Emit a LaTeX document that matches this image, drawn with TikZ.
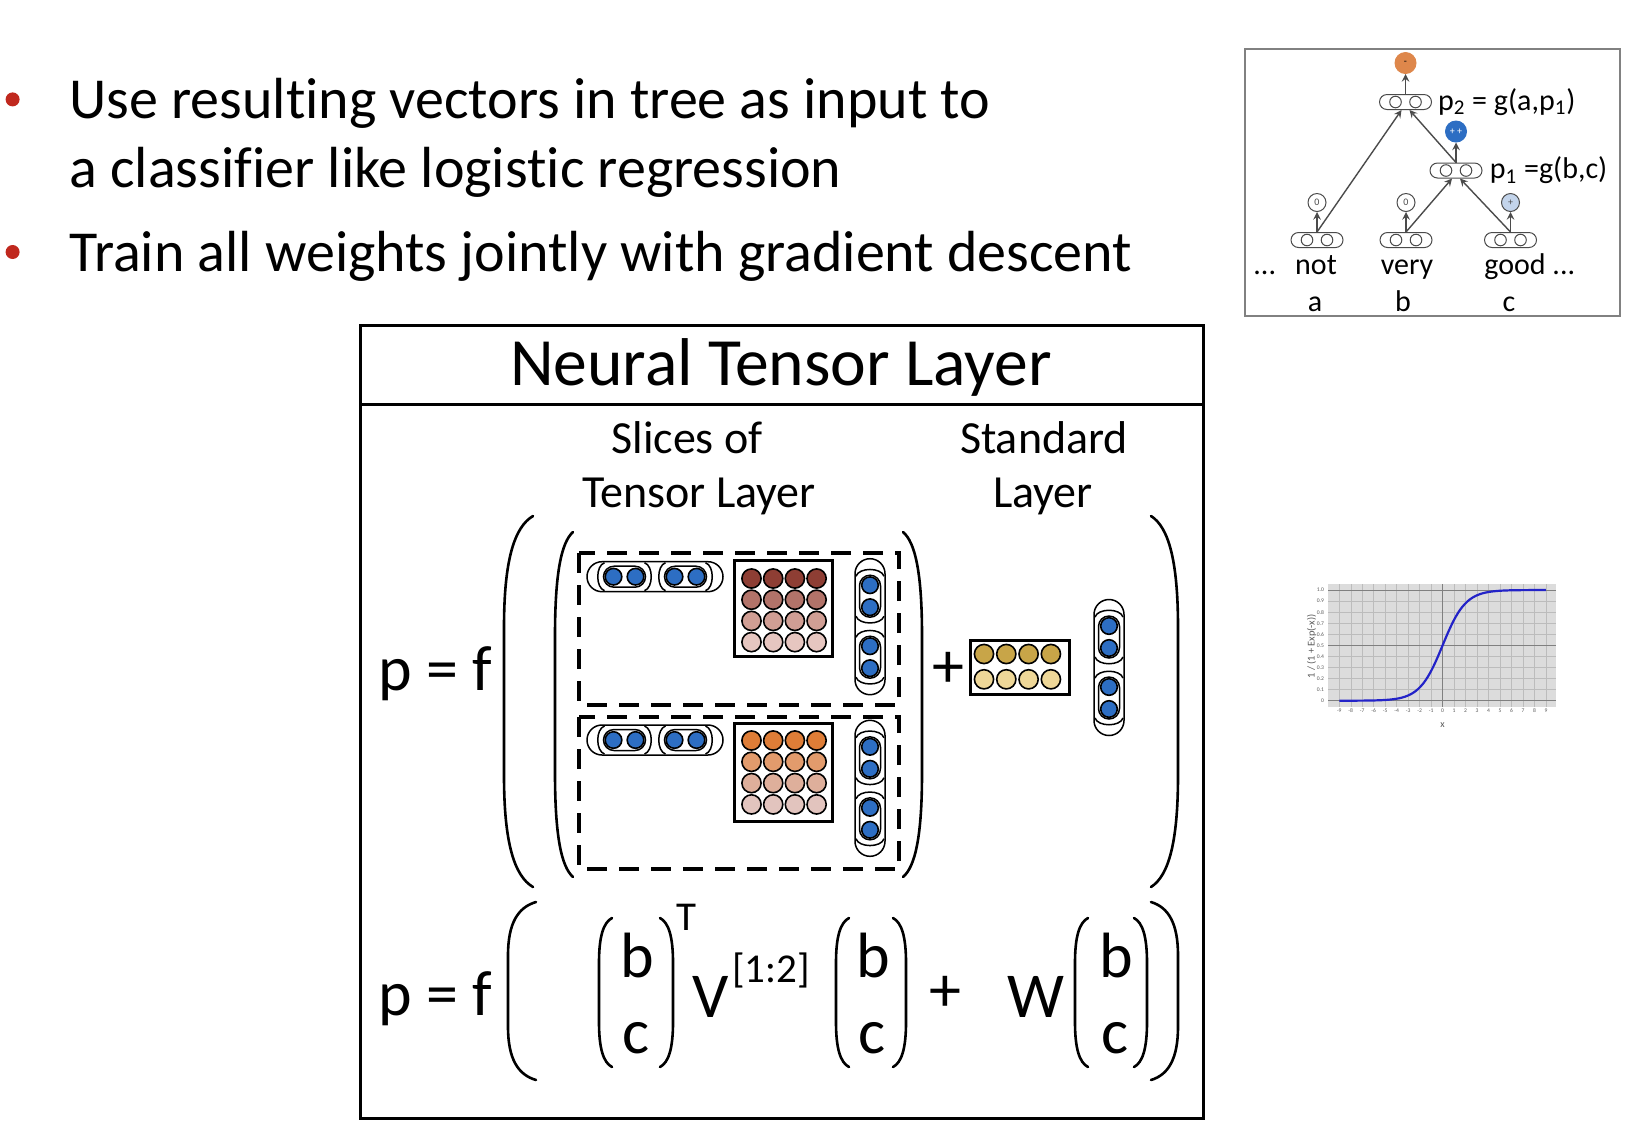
\documentclass[tikz,border=0pt]{standalone}
\usepackage{fontspec}
\setmainfont{Carlito}[Ligatures=NoCommon]
\usetikzlibrary{positioning}

\definecolor{bulletred}{RGB}{192,40,30}
\definecolor{vblue}{RGB}{45,110,195}
\definecolor{mA1}{RGB}{142,62,52}
\definecolor{mA2}{RGB}{178,115,105}
\definecolor{mA3}{RGB}{208,158,148}
\definecolor{mA4}{RGB}{230,198,192}
\definecolor{mB1}{RGB}{222,125,55}
\definecolor{mB2}{RGB}{226,155,108}
\definecolor{mB3}{RGB}{222,175,155}
\definecolor{mB4}{RGB}{226,196,190}
\definecolor{mW1}{RGB}{200,165,72}
\definecolor{mW2}{RGB}{238,215,152}
\definecolor{treegray}{RGB}{75,75,75}
\definecolor{sentorange}{RGB}{222,135,75}
\definecolor{sentlight}{RGB}{195,212,235}
\definecolor{plotbg}{RGB}{220,220,220}
\definecolor{plotgrid}{RGB}{188,188,188}
\definecolor{plotblue}{RGB}{35,35,200}

\newcommand{\bulletfont}{\fontsize{29}{34}\selectfont}
\newcommand{\titlefont}{\fontsize{33.8}{40}\selectfont}
\newcommand{\capfont}{\fontsize{23}{27}\selectfont}
\newcommand{\eqfont}{\fontsize{32}{38}\selectfont}
\newcommand{\supfont}{\fontsize{20.5}{24}\selectfont}
\newcommand{\treefont}{\fontsize{15}{18}\selectfont}
\newcommand{\tickfont}{\fontsize{2.8}{3}\selectfont}

% paren: outer x, inner x, top y, bottom y
\newcommand{\vparen}[4]{%
\draw[parenline] (#2,#3) .. controls ({#1+0.35*(#2-#1)},{#3+0.03*(#4-#3)}) and (#1,{#3+0.12*(#4-#3)}) .. (#1,{#3+0.3*(#4-#3)})
  -- (#1,{#4-0.3*(#4-#3)}) .. controls (#1,{#4-0.12*(#4-#3)}) and ({#1+0.35*(#2-#1)},{#4-0.03*(#4-#3)}) .. (#2,#4);}

\tikzset{
  ball/.style={draw=black, line width=0.8pt, fill=#1},
  pill/.style={draw=black, line width=0.75pt},
  parenline/.style={draw=black, line width=1.3pt, line cap=round},
  dashbox/.style={draw=black, line width=1.8pt, dash pattern=on 10pt off 6pt},
  tpill/.style={draw=treegray, line width=0.5pt, rounded corners=3.75pt, minimum width=26pt, minimum height=7.5pt, inner sep=0pt,
    path picture={\draw[treegray, line width=0.5pt] ([xshift=-5pt]path picture bounding box.center) circle (2.9pt)
      ([xshift=5pt]path picture bounding box.center) circle (2.9pt);}},
  tsent/.style={circle, draw=treegray, line width=0.5pt, minimum size=9pt, inner sep=0pt, font=\fontsize{5}{5}\selectfont, text=treegray},
  tarrow/.style={draw=treegray, line width=0.7pt, -stealth},
  pics/hvec/.style={code={
    \draw[pill, rounded corners=7.5pt] (-68,-15) rectangle (68,15);
    \foreach \g in {-30.5,30.5} {
      \draw[pill, rounded corners=5.25pt] (\g-21,-10.5) rectangle (\g+21,10.5);
      \draw[pill] (\g-20,-14) .. controls (\g-29,-11) and (\g-29,11) .. (\g-20,14);
      \draw[pill] (\g+20,-14) .. controls (\g+29,-11) and (\g+29,11) .. (\g+20,14);
      \foreach \d in {-11,11}
        \draw[ball=vblue] (\g+\d,0) circle (8.3);
    }
  }}
}

\begin{document}
\begin{tikzpicture}[x=0.5pt, y=-0.5pt, every node/.style={inner sep=0pt}]
\useasboundingbox (0,0) rectangle (1640,1132);

% bullets
\fill[bulletred] (12.6,99.4) circle (7);
\fill[bulletred] (12.6,252) circle (7);
\node[anchor=base west, font=\bulletfont] (bulA) at (69,118) {Use resulting vectors in tree as input to};
\node[anchor=base west, font=\bulletfont] (bulB) at (69,187) {a classifier like logistic regression};
\node[anchor=base west, font=\bulletfont] (bulC) at (69,271) {Train all weights jointly with gradient descent};

% tree
\draw[treegray!70, line width=0.8pt] (1245,49) rectangle (1620,316);
\node[tpill] (pNot) at (1317,240) {};
\node[tpill] (pVery) at (1406,240) {};
\node[tpill] (pGood) at (1510.5,240) {};
\node[tpill] (pOne) at (1456,170.5) {};
\node[tpill] (pTwo) at (1405.5,102) {};
\node[tsent, fill=white, above=10pt of pNot] (sNot) {0};
\node[tsent, fill=white, above=10pt of pVery] (sVery) {0};
\node[tsent, fill=sentlight, above=10pt of pGood] (sGood) {+};
\node[tsent, fill=vblue, draw=vblue, text=white, minimum size=10.5pt, above=10pt of pOne] (sOne) {+ +};
\node[tsent, fill=sentorange, draw=sentorange, text=black, minimum size=10.5pt, above=10pt of pTwo] (sTwo) {-};
\foreach \a/\b in {pNot/sNot, pVery/sVery, pGood/sGood, pOne/sOne, pTwo/sTwo}
  \draw[tarrow] (\a) -- (\b);
\draw[tarrow] (pNot.north) -- ([xshift=-2pt]pTwo.south);
\draw[tarrow] (pOne.north) -- ([xshift=2pt]pTwo.south);
\draw[tarrow] (pVery.north) -- ([xshift=-2pt]pOne.south);
\draw[tarrow] (pGood.north) -- ([xshift=2pt]pOne.south);
\node[font=\treefont, right=2.8pt of pTwo] (lTwo) {p\textsubscript{2} = g(a,p\textsubscript{1})};
\node[font=\treefont, right=3.5pt of pOne] (lOne) {p\textsubscript{1} =g(b,c)};
\node[font=\treefont, anchor=base west] (wDots) at (1253,274) {...};
\node[font=\treefont, anchor=base] (wNot) at (1316,274) {not};
\node[font=\treefont, anchor=base] (wVery) at (1407,274) {very};
\node[font=\treefont, anchor=base west] (wGood) at (1484,274) {good ...};
\node[font=\treefont, anchor=base] (wA) at (1315,311) {a};
\node[font=\treefont, anchor=base] (wB) at (1403,311) {b};
\node[font=\treefont, anchor=base] (wC) at (1509,311) {c};

% main box
\draw[line width=1.5pt] (360,325) rectangle (1203,1118);
\draw[line width=1.5pt] (360,404) -- (1203,404);
\node[font=\titlefont, anchor=base] (title) at (781,385) {Neural Tensor Layer};
\node[font=\capfont, anchor=base] (capA) at (687,453) {Slices of};
\node[font=\capfont, anchor=base] (capB) at (699,507) {Tensor Layer};
\node[font=\capfont, anchor=base] (capC) at (1044,453) {Standard};
\node[font=\capfont, anchor=base] (capD) at (1043,507) {Layer};

% top equation
\node[font=\eqfont, anchor=base west] (pfA) at (378,690) {p = f};
\vparen{504}{533}{516}{887}
\vparen{1178}{1151}{516}{887}
\vparen{555}{573}{532}{877}
\vparen{922}{903}{532}{877}
\draw[dashbox] (579,553) rectangle (899,705);
\draw[dashbox] (579,717) rectangle (899,869);

% slice 1
\pic at (655,576.7) {hvec};
\draw[line width=1.5pt] (734.3,560.7) rectangle (832.3,656.7);
\foreach \c [count=\r] in {mA1,mA2,mA3,mA4}
  \foreach \k in {0,...,3}
    \draw[ball=\c] ({751.5+21.7*\k},{578.5+21.2*(\r-1)}) circle (9.6);
\pic[rotate=90] at (870,626.7) {hvec};

% slice 2
\pic at (655,740) {hvec};
\draw[line width=1.5pt] (734.3,723.3) rectangle (832.3,821.7);
\foreach \c [count=\r] in {mB1,mB2,mB3,mB4}
  \foreach \k in {0,...,3}
    \draw[ball=\c] ({751.5+21.7*\k},{740.5+21.3*(\r-1)}) circle (9.6);
\pic[rotate=90] at (870,788.3) {hvec};

% standard layer
\node[font=\eqfont] (plusA) at (948.3,670) {+};
\draw[line width=1.5pt] (970.7,640) rectangle (1069.3,694);
\foreach \c [count=\r] in {mW1,mW2}
  \foreach \k in {0,...,3}
    \draw[ball=\c] ({984+22.3*\k},{654+25.3*(\r-1)}) circle (9.6);
\pic[rotate=90] at (1109,667.5) {hvec};

% bottom equation
\node[font=\eqfont, anchor=base west] (pfB) at (378,1015) {p = f};
\vparen{508}{536}{902}{1080}
\vparen{1178}{1151}{902}{1080}
\foreach \xo/\xi/\xr/\xs/\xm in {599/612/660/673/637, 836/849/893/906/873, 1075/1088/1134/1147/1116} {
  \vparen{\xo}{\xi}{918}{1067}
  \vparen{\xs}{\xr}{918}{1067}
  \node[font=\eqfont, anchor=base] at (\xm,977) {b};
  \node[font=\eqfont, anchor=base] at (\xm-1,1053) {c};
}
\node[font=\supfont] (supT) at (686,917) {T};
\node[font=\eqfont, anchor=base] (symV) at (711,1017) {V};
\node[font=\supfont] (supV) at (771,970) {[1:2]};
\node[font=\eqfont] (plusB) at (945,994) {+};
\node[font=\eqfont, anchor=base] (symW) at (1036,1017) {W};

% sigmoid
\begin{scope}[shift={(1442.6,700.7)}, x=5.74pt, y=55.35pt]
\fill[plotbg] (-9.96,-0.054) rectangle (9.87,1.054);
\foreach \x in {-9,...,9}
  \draw[plotgrid, line width=0.25pt] (\x,-0.054) -- (\x,1.054);
\foreach \y in {0.1,0.2,0.3,0.4,0.6,0.7,0.8,0.9}
  \draw[plotgrid, line width=0.25pt] (-9.96,\y) -- (9.87,\y);
\draw[gray, line width=0.35pt] (0,-0.054) -- (0,1.054) (-9.96,0) -- (9.87,0)
  (-9.96,0.5) -- (9.87,0.5) (-9.96,1) -- (9.87,1);
\draw[plotblue, line width=1.1pt] plot[domain=-9:9, samples=80, smooth] (\x,{1/(1+exp(-\x))});
\foreach \x in {-9,...,9}
  \node[font=\tickfont, text=gray!70!black] at (\x,-0.09) {\x};
\foreach \y/\t in {0/0,0.1/0.1,0.2/0.2,0.3/0.3,0.4/0.4,0.5/0.5,0.6/0.6,0.7/0.7,0.8/0.8,0.9/0.9,1/1.0}
  \node[font=\tickfont, text=gray!70!black, anchor=east] at (-10.3,\y) {\t};
\node[font=\fontsize{5}{5}\selectfont, text=gray!70!black] (plotX) at (0,-0.22) {x};
\node[font=\fontsize{5.2}{5}\selectfont, text=gray!70!black, rotate=90] (plotY) at (-11.4,0.49) {1 / (1 + Exp(-x))};
\end{scope}
\end{tikzpicture}
\end{document}
